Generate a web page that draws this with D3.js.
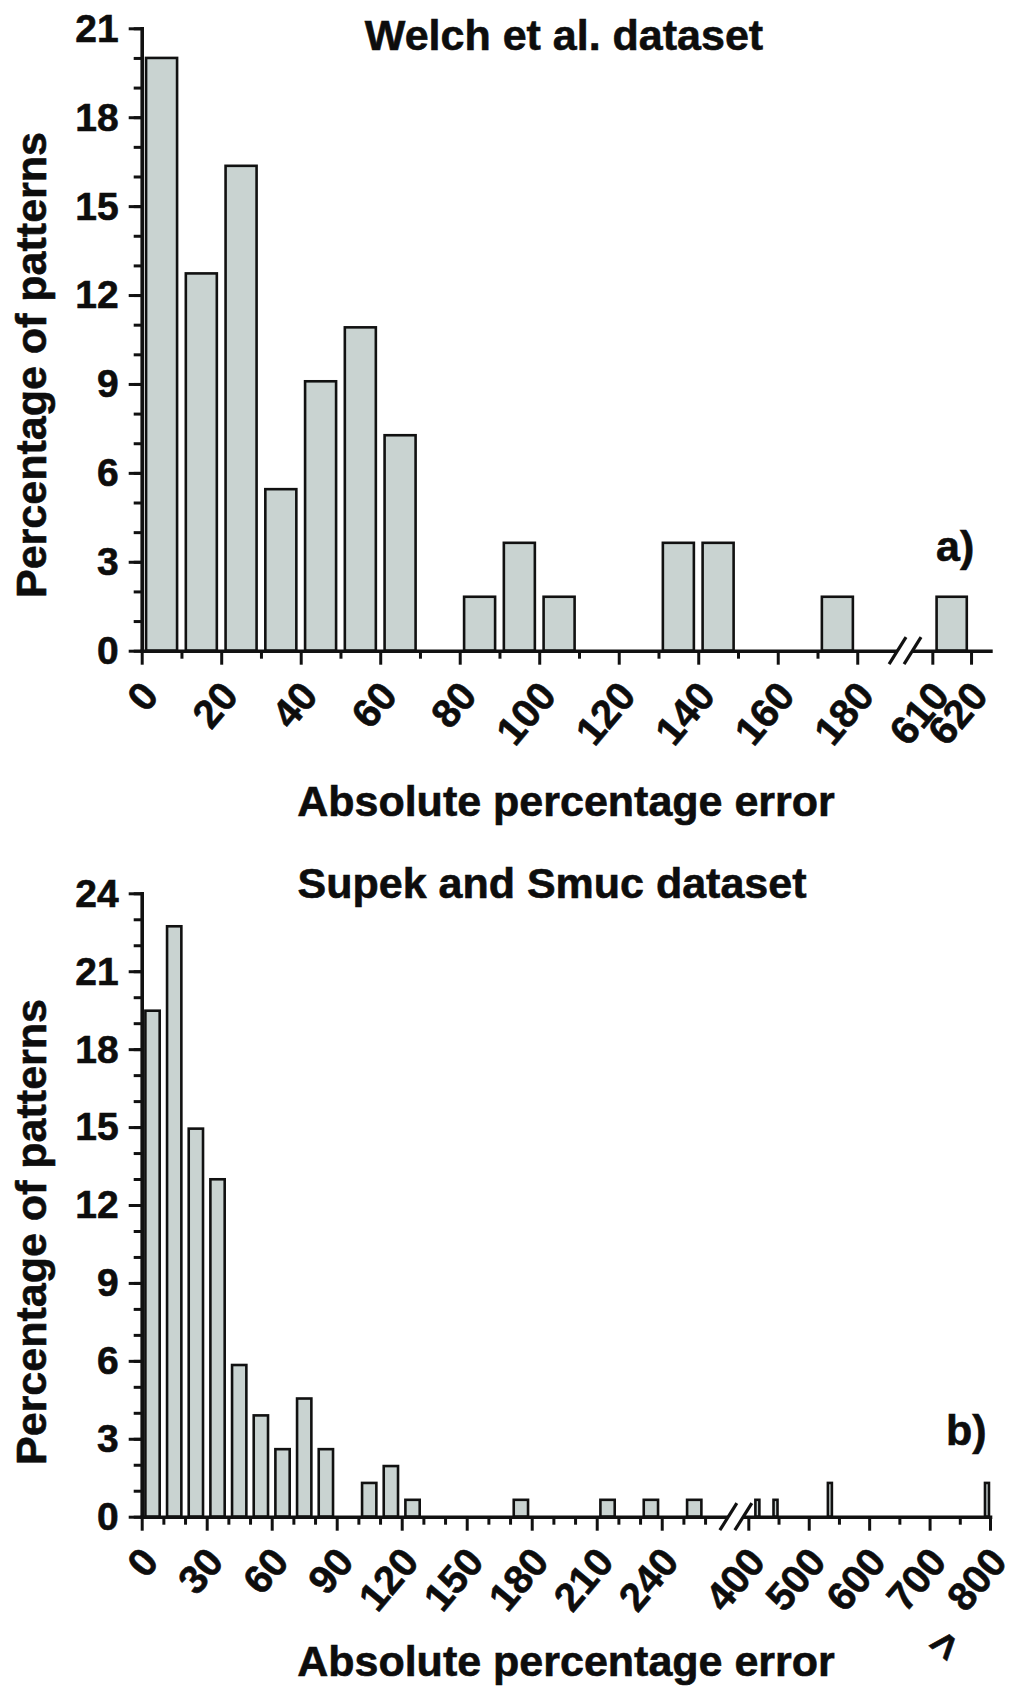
<!DOCTYPE html>
<html>
<head>
<meta charset="utf-8">
<script src="https://cdn.jsdelivr.net/npm/d3@7"></script>
<style>
  body { margin: 0; background: #fff; }
  svg text { font-family: "Liberation Sans", Arial, Helvetica, sans-serif; font-weight: bold; fill: #0d0d0d; stroke: #0d0d0d; stroke-width: 0.6px; }
</style>
</head>
<body>
<script>
// Welch et al. dataset (panel a), bins of width 10, value = % of patterns
const welchBins = [0, 10, 20, 30, 40, 50, 60, 70, 80, 90, 100, 110, 120, 130, 140, 150, 160, 170, 610];
const welchPct  = [20.0, 12.73, 16.36, 5.45, 9.09, 10.91, 7.27, 0, 1.82, 3.64, 1.82, 0, 0, 3.64, 3.64, 0, 0, 1.82, 1.82];
const welchMajor = [0, 20, 40, 60, 80, 100, 120, 140, 160, 180, 610, 620];
const welchMinor = [10, 30, 50, 70, 90, 110, 130, 150, 170];
const welchYTicks = [0, 3, 6, 9, 12, 15, 18, 21];

// Supek and Smuc dataset (panel b)
const supekBins = [0, 10, 20, 30, 40, 50, 60, 70, 80, 90, 100, 110, 120, 170, 210, 230, 250, 410, 440, 530, 790];
const supekPct  = [19.48, 22.73, 14.94, 12.99, 5.84, 3.90, 2.60, 4.55, 2.60, 0, 1.30, 1.95, 0.65, 0.65, 0.65, 0.65, 0.65, 0.65, 0.65, 1.30, 1.30];
const supekMajor = [0, 30, 60, 90, 120, 150, 180, 210, 240, 400, 500, 600, 700, 800];
const supekMinor = [10, 20, 40, 50, 70, 80, 100, 110, 130, 140, 160, 170, 190, 200, 220, 230, 250, 260, 450, 550, 650, 750];
const supekYTicks = [0, 3, 6, 9, 12, 15, 18, 21, 24];

const W = 1021, H = 1690;
const svg = d3.select('body').append('svg').attr('width', W).attr('height', H);

function panel(cfg) {
  const { x, y } = cfg;
  const g = svg.append('g');
  const x0 = x.range()[0];
  const yBase = y(0);

  // bars
  const bars = cfg.bins.map((b, i) => ({ b, v: cfg.pct[i] })).filter(d => d.v > 0);
  g.selectAll('rect.bar')
    .data(bars)
    .join('rect')
    .attr('class', 'bar')
    .attr('x', d => {
      const a = x(d.b), b = x(d.b + 10);
      return a + (b - a) * (1 - cfg.frac) / 2;
    })
    .attr('width', d => (x(d.b + 10) - x(d.b)) * cfg.frac)
    .attr('y', d => y(d.v))
    .attr('height', d => yBase - y(d.v))
    .attr('fill', '#c9d3d1')
    .attr('stroke', '#111')
    .attr('stroke-width', 2.6);

  // y axis minor + major
  g.append('g')
    .attr('transform', `translate(${x0},0)`)
    .call(d3.axisLeft(y).tickValues(d3.range(0, cfg.yMax + 1, 1)).tickSize(8).tickSizeOuter(0).tickFormat(''))
    .call(a => a.select('.domain').remove())
    .call(a => a.selectAll('.tick line').attr('stroke', '#111').attr('stroke-width', 3));

  g.append('g')
    .attr('transform', `translate(${x0},0)`)
    .call(d3.axisLeft(y).tickValues(cfg.yTicks).tickSize(13).tickSizeOuter(0).tickPadding(10))
    .call(a => a.select('.domain').attr('stroke', '#111').attr('stroke-width', 3.6).attr('stroke-linecap', 'square'))
    .call(a => a.selectAll('.tick line').attr('stroke', '#111').attr('stroke-width', 3))
    .call(a => a.selectAll('.tick text').attr('dy', '0.33em').style('font-size', '39px'));

  // x axis minor + major
  g.append('g')
    .attr('transform', `translate(0,${yBase})`)
    .call(d3.axisBottom(x).tickValues(cfg.minor).tickSize(8).tickSizeOuter(0).tickFormat(''))
    .call(a => a.select('.domain').remove())
    .call(a => a.selectAll('.tick line').attr('stroke', '#111').attr('stroke-width', 3));

  g.append('g')
    .attr('transform', `translate(0,${yBase})`)
    .call(d3.axisBottom(x).tickValues(cfg.major).tickSize(14).tickSizeOuter(0))
    .call(a => a.select('.domain').attr('stroke', '#111').attr('stroke-width', 3.6).attr('stroke-linecap', 'square'))
    .call(a => a.selectAll('.tick line').attr('stroke', '#111').attr('stroke-width', 3))
    .call(a => a.selectAll('.tick text')
      .attr('x', 0).attr('y', 0).attr('dy', '0.35em')
      .attr('text-anchor', 'end')
      .attr('transform', 'translate(7.5,37) rotate(-50)')
      .style('font-size', '40px'));

  // axis break marks
  const r = x.range();
  const c = (r[1] + r[2]) / 2 + cfg.breakShift;
  g.append('polygon')
    .attr('points', [[c - 16, yBase + 13.5], [c + 1, yBase - 13.5], [c + 16, yBase - 13.5], [c - 1, yBase + 13.5]].join(' '))
    .attr('fill', '#fff');
  [-7.5, 7.5].forEach(o => {
    g.append('line')
      .attr('x1', c + o - 8.5).attr('y1', yBase + 13.5)
      .attr('x2', c + o + 8.5).attr('y2', yBase - 13.5)
      .attr('stroke', '#111').attr('stroke-width', 3.2);
  });

  // titles
  g.append('text')
    .attr('x', cfg.titleX).attr('y', cfg.titleY)
    .attr('text-anchor', 'middle')
    .style('font-size', '43px')
    .text(cfg.title);

  g.append('text')
    .attr('x', 566).attr('y', cfg.xTitleY)
    .attr('text-anchor', 'middle')
    .style('font-size', '43px')
    .text('Absolute percentage error');

  g.append('text')
    .attr('transform', `translate(46,${cfg.yTitleY}) rotate(-90)`)
    .attr('text-anchor', 'middle')
    .style('font-size', '43px')
    .text('Percentage of patterns');

  g.append('text')
    .attr('x', cfg.tagX).attr('y', cfg.tagY)
    .style('font-size', '43px')
    .text(cfg.tag);

  return g;
}

// panel a
const xA = d3.scaleLinear().domain([0, 190, 604, 625]).range([141.7, 897, 909.1, 990.4]);
const yA = d3.scaleLinear().domain([0, 21]).range([650.7, 28.3]);
panel({
  x: xA, y: yA, yMax: 21, frac: 0.78, breakShift: 2,
  bins: welchBins, pct: welchPct, major: welchMajor, minor: welchMinor, yTicks: welchYTicks,
  title: 'Welch et al. dataset', titleX: 564, titleY: 50,
  xTitleY: 816, yTitleY: 365, tag: 'a)', tagX: 936, tagY: 561
});

// panel b
const xB = d3.scaleLinear().domain([0, 268, 395, 800]).range([141.7, 722.4, 745.3, 990]);
const yB = d3.scaleLinear().domain([0, 24]).range([1516.7, 893.3]);
const gB = panel({
  x: xB, y: yB, yMax: 24, frac: 0.66, breakShift: 2,
  bins: supekBins, pct: supekPct, major: supekMajor, minor: supekMinor, yTicks: supekYTicks,
  title: 'Supek and Smuc dataset', titleX: 552, titleY: 898,
  xTitleY: 1676, yTitleY: 1232, tag: 'b)', tagX: 946, tagY: 1445
});

// ">" qualifier under the 800 label
gB.append('text')
  .attr('transform', 'translate(946,1646) rotate(-50)')
  .attr('text-anchor', 'middle')
  .attr('dy', '0.3em')
  .style('font-size', '44px')
  .text('>');
</script>
</body>
</html>
